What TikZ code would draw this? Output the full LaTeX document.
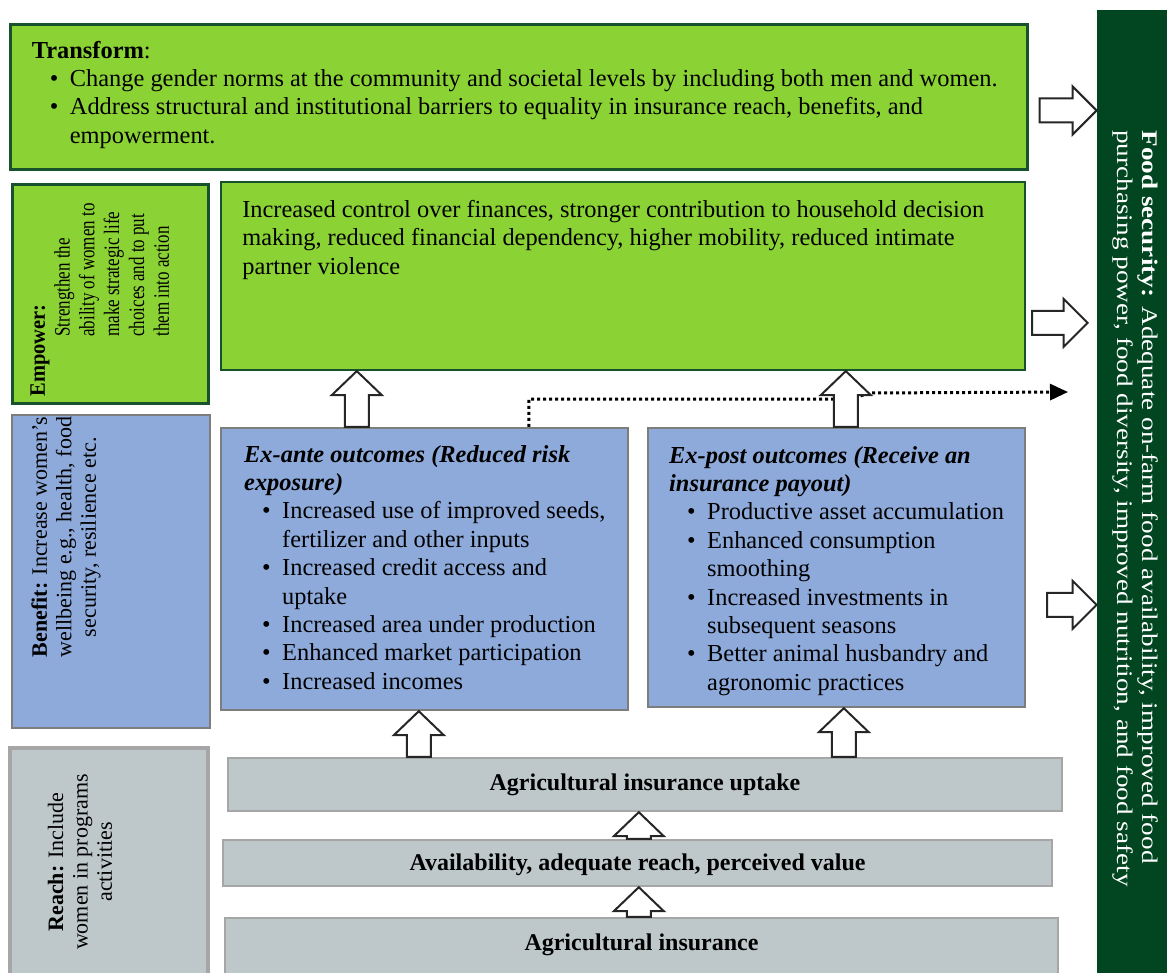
\documentclass[tikz,border=0pt]{standalone}
\usepackage{fontspec}
\setmainfont{Liberation Serif}
\usetikzlibrary{arrows.meta,positioning,calc,fit}

\definecolor{leafgreen}{RGB}{139,211,52}
\definecolor{leafedge}{RGB}{24,82,44}
\definecolor{skyblue}{RGB}{142,170,219}
\definecolor{slateedge}{RGB}{125,125,125}
\definecolor{ashgrey}{RGB}{190,200,202}
\definecolor{ashedge}{RGB}{166,166,166}
\definecolor{forest}{RGB}{1,70,32}

\newcommand\bitem{\hspace*{9pt}\makebox[10pt][l]{\textbullet}}
\newcommand\bcont{\hspace*{19pt}}
\newcommand\narrow[1]{\hspace*{30pt}\scalebox{0.77}[1]{#1}}
\newcommand\upblock[2]{%
  \draw[blockarr] let \p1=#1, \p2=#2 in
    (\x1-6pt,\y1) -- (\x1-6pt,\y2-12pt) -- (\x1-12.5pt,\y2-12pt) -- (\x1,\y2)
    -- (\x1+12.5pt,\y2-12pt) -- (\x1+6pt,\y2-12pt) -- (\x1+6pt,\y1) -- cycle;}
\newcommand\rightblock[2]{%
  \draw[blockarr] let \p1=#1, \p2=#2 in
    (\x1,\y1-6pt) -- (\x2-12pt,\y1-6pt) -- (\x2-12pt,\y1-12pt) -- (\x2,\y1)
    -- (\x2-12pt,\y1+12pt) -- (\x2-12pt,\y1+6pt) -- (\x1,\y1+6pt) -- cycle;}

\begin{document}
\begin{tikzpicture}[x=0.5pt,y=-0.5pt,
   greenbox/.style={draw=leafedge,line width=1.5pt,fill=leafgreen,inner sep=0pt},
   bluebox/.style={draw=slateedge,line width=1.2pt,fill=skyblue,inner sep=0pt},
   greybox/.style={draw=ashedge,line width=1.2pt,fill=ashgrey,inner sep=0pt},
   foodbar/.style={fill=forest,inner sep=0pt},
   txt/.style={align=left,inner sep=0pt,font=\fontsize{12.2}{14.2}\selectfont},
   boldtxt/.style={inner sep=0pt,font=\fontsize{12}{14}\selectfont\bfseries},
   rottxt/.style={rotate=90,inner sep=0pt,font=\fontsize{11}{12.2}\selectfont},
   blockarr/.style={draw=black!85,line width=1pt,fill=white,line join=miter},
   dotarr/.style={line width=1.5pt,dash pattern=on 1.5pt off 1.5pt,
                  -{Triangle[length=9pt,width=8pt]}}]
  \useasboundingbox (0,0) rectangle (1167,973);

  \node[greenbox,fit={(10,25) (1027,170)}] (transform) {};
  \node[greenbox,fit={(12,185) (208,403)}] (empower) {};
  \node[greenbox,line width=1.1pt,fit={(221,182) (1025,370)}] (emres) {};
  \node[bluebox,fit={(12,415) (210,728)}] (benefit) {};
  \node[bluebox,fit={(221,428) (628,710)}] (exante) {};
  \node[bluebox,fit={(648,428) (1025,707)}] (expost) {};
  \node[greybox,line width=1.6pt,fit={(10,748) (208,980)}] (reach) {};
  \node[greybox,fit={(228,758) (1062,811)}] (uptake) {};
  \node[greybox,fit={(223,840) (1052,886)}] (avail) {};
  \node[greybox,fit={(225,918) (1058,980)}] (agins) {};
  \node[foodbar,fit={(1097,10) (1167,980)}] (food) {};

  \node[txt,anchor=north west] (transformtxt) at ($(transform.north west)+(23,17)$)
       {\textbf{Transform}:\\
        \bitem Change gender norms at the community and societal levels by including both men and women.\\
        \bitem Address structural and institutional barriers to equality in insurance reach, benefits, and\\
        \bcont empowerment.};
  \node[txt,anchor=north west] (emrestxt) at ($(emres.north west)+(22,19)$)
       {Increased control over finances, stronger contribution to household decision\\
        making, reduced financial dependency, higher mobility, reduced intimate\\
        partner violence};
  \node[txt,anchor=north west] (exantetxt) at ($(exante.north west)+(24,18)$)
       {\textbf{\textit{Ex-ante outcomes (Reduced risk}}\\
        \textbf{\textit{exposure)}}\\
        \bitem Increased use of improved seeds,\\
        \bcont fertilizer and other inputs\\
        \bitem Increased credit access and\\
        \bcont uptake\\
        \bitem Increased area under production\\
        \bitem Enhanced market participation\\
        \bitem Increased incomes};
  \node[txt,anchor=north west] (toposttxt) at ($(expost.north west)+(22,19)$)
       {\textbf{\textit{Ex-post outcomes (Receive an}}\\
        \textbf{\textit{insurance payout)}}\\
        \bitem Productive asset accumulation\\
        \bitem Enhanced consumption\\
        \bcont smoothing\\
        \bitem Increased investments in\\
        \bcont subsequent seasons\\
        \bitem Better animal husbandry and\\
        \bcont agronomic practices};

  \node[rottxt,align=left,anchor=north west,font=\fontsize{11}{12.4}\selectfont]
       (empowertxt) at (30,397)
       {\scalebox{0.93}[1]{\textbf{Empower:}}\\
        \narrow{Strengthen the}\\
        \narrow{ability of women to}\\
        \narrow{make strategic life}\\
        \narrow{choices and to put}\\
        \narrow{them into action}};
  \node[rottxt,align=center] (benefittxt) at (66,537)
       {\textbf{Benefit:} Increase women's\\wellbeing e.g., health, food\\security, resilience etc.};
  \node[rottxt,align=center] (reachtxt) at (80,862)
       {\textbf{Reach:} Include\\women in programs\\activities};
  \node[rotate=-90,anchor=north west,inner sep=0pt,text=white,
        font=\fontsize{13.6}{15}\selectfont] (foodtxt) at (1160,130)
       {\scalebox{1}[0.82]{\begin{tabular}{@{}l@{}}
        \textbf{Food security:} Adequate on-farm food availability, improved food\\
        purchasing power, food diversity, improved nutrition, and food safety
        \end{tabular}}};

  \node[boldtxt] (uptaketxt) at (uptake.center) {Agricultural insurance uptake};
  \node[boldtxt] (availtxt) at ($(avail.center)+(0,2)$) {Availability, adequate reach, perceived value};
  \node[boldtxt] (aginstxt) at ($(agins.north)+(0,28)$) {Agricultural insurance};

  \coordinate (dotend) at (1068,392);
  \draw[dotarr] ($(exante.north west)+(309,0)$) |- (850,399) -- (870,393) -- (dotend);

  \upblock{($(exante.north west)+(137,0)$)}{(emres.south)}
  \upblock{($(expost.north west)+(199,0)$)}{(emres.south)}
  \upblock{($(uptake.north west)+(192,0)$)}{(exante.south)}
  \upblock{($(uptake.north west)+(617,0)$)}{(expost.south)}
  \upblock{($(avail.north west)+(417,0)$)}{(uptake.south)}
  \upblock{($(agins.north west)+(415,0)$)}{(avail.south)}
  \rightblock{($(transform.north east)+(11,87)$)}{(food.west)}
  \rightblock{($(emres.north east)+(6,142)$)}{($(food.west)+(-9,0)$)}
  \rightblock{($(expost.north east)+(21,178)$)}{(food.west)}
\end{tikzpicture}
\end{document}
